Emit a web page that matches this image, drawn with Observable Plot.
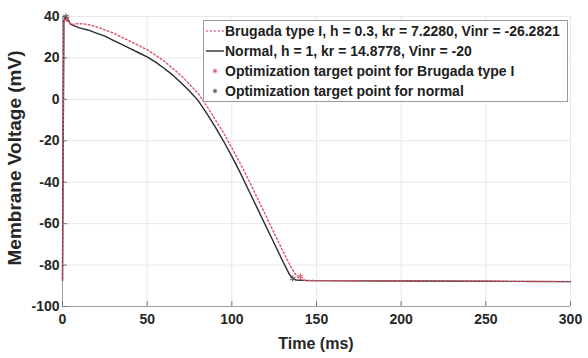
<!DOCTYPE html>
<html>
<head>
<meta charset="utf-8">
<script src="https://cdn.jsdelivr.net/npm/d3@7"></script>
<script src="https://cdn.jsdelivr.net/npm/@observablehq/plot@0.6"></script>
<style>
  html, body { margin: 0; padding: 0; background: #fff; }
  #chart svg { display: block; font-family: "Liberation Sans", Arial, sans-serif; }
  g[aria-label="x-axis tick label"], g[aria-label="y-axis tick label"] {
    font: bold 14px "Liberation Sans", Arial, sans-serif; fill: #262626;
  }
</style>
</head>
<body>
<div id="chart"></div>
<script>
// ---- data ----
const normalT = [0, 0.8, 2, 3, 4.5, 7, 10, 15, 20, 25, 30, 35, 40, 45, 50, 55, 60, 65, 70, 75, 80, 85, 90, 95, 100, 105, 110, 115, 120, 125, 130, 134, 136, 138, 145, 200, 250, 300];
const normalV = [-87.5, 38, 40, 39, 36.5, 35.5, 34.5, 33.5, 32, 30.5, 28.5, 26.5, 24.5, 22.5, 20.5, 18, 15, 11.8, 8, 4, -0.5, -6.5, -13, -20, -27.5, -35.5, -44, -52.5, -61, -69.5, -78, -84.5, -86.5, -87.2, -87.5, -87.7, -87.8, -88];
const brugT = [0, 0.8, 2, 3, 5, 8, 12, 16, 22, 30, 40, 50, 60, 70, 80, 85, 90, 95, 100, 105, 110, 115, 120, 125, 130, 135, 138, 140, 142, 150, 200, 250, 300];
const brugV = [-87.5, 37, 39, 38, 36, 36.5, 36.5, 36, 34.5, 32, 28, 24, 18.5, 11.5, 3, -3, -9.5, -16, -23.5, -31, -39, -47.5, -56, -64.5, -73, -81, -85, -86.5, -87.3, -87.5, -87.7, -87.8, -88];
const targetNormalT = [2, 136];
const targetNormalV = [40, -86.5];
const targetBrugT = [2.5, 140.5];
const targetBrugV = [39, -85.5];
const xTicks = [0, 50, 100, 150, 200, 250, 300];
const yTicks = [-100, -80, -60, -40, -20, 0, 20, 40];
const legendLabels = [
  "Brugada type I, h = 0.3, kr = 7.2280, Vinr = -26.2821",
  "Normal, h = 1, kr = 14.8778, Vinr = -20",
  "Optimization target point for Brugada type I",
  "Optimization target point for normal"
];
const xLabel = "Time (ms)";
const yLabel = "Membrane Voltage (mV)";

// ---- build tables ----
const normal = normalT.map((t, i) => ({t, v: normalV[i]}));
const brug = brugT.map((t, i) => ({t, v: brugV[i]}));
const tgtN = targetNormalT.map((t, i) => ({t, v: targetNormalV[i]}));
const tgtB = targetBrugT.map((t, i) => ({t, v: targetBrugV[i]}));

const W = 588, H = 358, mL = 62, mR = 18, mT = 16, mB = 52;
const innerW = W - mL - mR, innerH = H - mT - mB;
const colBrug = "#e0506a", colNorm = "#2b2b2b", axisCol = "#a0a0a0", gridCol = "#e8e8e8";

const chart = Plot.plot({
  width: W, height: H,
  marginLeft: mL, marginRight: mR, marginTop: mT, marginBottom: mB,
  x: {domain: [xTicks[0], xTicks[xTicks.length - 1]]},
  y: {domain: [yTicks[0], yTicks[yTicks.length - 1]]},
  marks: [
    Plot.gridX(xTicks, {stroke: gridCol, strokeOpacity: 1}),
    Plot.gridY(yTicks, {stroke: gridCol, strokeOpacity: 1}),
    Plot.ruleX([xTicks[0]], {stroke: axisCol}),
    Plot.ruleY([yTicks[0]], {stroke: axisCol}),
    Plot.ruleX(xTicks, {stroke: "#777", insetTop: innerH - 5}),
    Plot.ruleY(yTicks, {stroke: "#777", insetRight: innerW - 5}),
    Plot.axisX(xTicks, {tickSize: 0, tickPadding: 8, label: null, tickFormat: d => String(d)}),
    Plot.axisY(yTicks, {tickSize: 0, tickPadding: 3, label: null, tickFormat: d => String(d)}),
    Plot.line(normal, {x: "t", y: "v", stroke: colNorm, strokeWidth: 1.4}),
    Plot.line(brug, {x: "t", y: "v", stroke: colBrug, strokeWidth: 1.4, strokeDasharray: "1.6,2.4"}),
    Plot.dot(tgtB, {x: "t", y: "v", symbol: "asterisk", r: 3, stroke: colBrug, strokeWidth: 1}),
    Plot.dot(tgtN, {x: "t", y: "v", symbol: "asterisk", r: 3, stroke: "#555", strokeWidth: 1})
  ]
});

const svg = d3.select(chart);
// axis labels
svg.append("text").attr("x", mL + innerW / 2).attr("y", 349)
  .attr("text-anchor", "middle")
  .style("font", "bold 16px 'Liberation Sans', Arial, sans-serif").attr("fill", "#262626")
  .text(xLabel);
svg.append("text").attr("transform", `translate(21,${mT + innerH / 2 - 3}) rotate(-90)`)
  .attr("text-anchor", "middle")
  .style("font", "bold 19px 'Liberation Sans', Arial, sans-serif").attr("fill", "#262626")
  .text(yLabel);

// legend
const lg = svg.append("g").attr("text-anchor", "start");
const lx = 203, ly = 20, lw = 364, lh = 81;
lg.append("rect").attr("x", lx + 0.5).attr("y", ly + 0.5).attr("width", lw).attr("height", lh)
  .style("fill", "#ffffff").attr("stroke", "#9a9a9a");
const rowY = i => ly + 11 + i * 20;
lg.append("line").attr("x1", lx + 3).attr("x2", lx + 21).attr("y1", rowY(0)).attr("y2", rowY(0))
  .attr("stroke", colBrug).attr("stroke-width", 1.4).attr("stroke-dasharray", "1.6,2.4");
lg.append("line").attr("x1", lx + 3).attr("x2", lx + 21).attr("y1", rowY(1)).attr("y2", rowY(1))
  .attr("stroke", colNorm).attr("stroke-width", 1.4);
const ast = d3.symbol(d3.symbolAsterisk, 16);
lg.append("path").attr("d", ast()).attr("transform", `translate(${lx + 12},${rowY(2)})`)
  .attr("stroke", colBrug).attr("fill", "none");
lg.append("path").attr("d", ast()).attr("transform", `translate(${lx + 12},${rowY(3)})`)
  .attr("stroke", "#555").attr("fill", "none");
legendLabels.forEach((s, i) => {
  lg.append("text").attr("x", lx + 22).attr("y", rowY(i)).attr("dy", "0.36em")
    .attr("text-anchor", "start")
    .style("font", "bold 14px 'Liberation Sans', Arial, sans-serif").attr("fill", "#1e1e1e")
    .text(s);
});

document.getElementById("chart").appendChild(chart);
</script>
</body>
</html>
